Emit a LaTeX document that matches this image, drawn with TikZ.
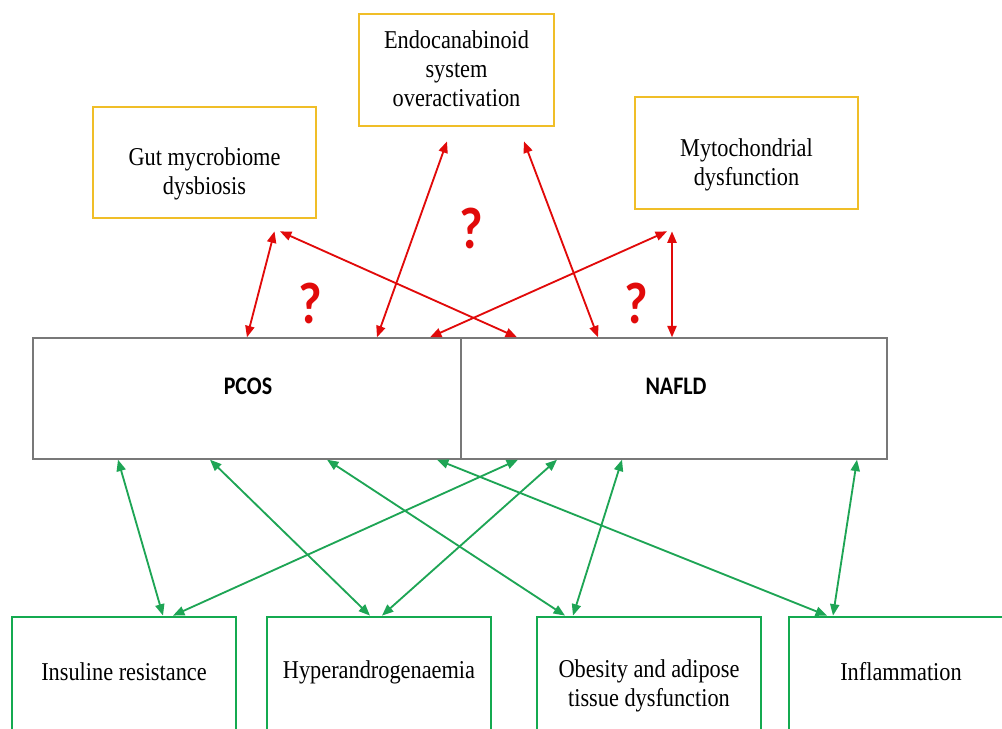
\documentclass[tikz,border=0pt]{standalone}
\usepackage{fontspec}
\setmainfont{Liberation Serif}
\newfontfamily\qfont{Carlito}
\usetikzlibrary{arrows.meta,calc}
\definecolor{boxyellow}{RGB}{240,190,40}
\definecolor{boxgreen}{RGB}{20,170,80}
\definecolor{arrgreen}{RGB}{30,165,85}
\definecolor{arrred}{RGB}{225,10,10}
\definecolor{boxgray}{RGB}{120,120,120}

\begin{document}
\begin{tikzpicture}[x=0.02cm, y=-0.02cm,
  ybox/.style={draw=boxyellow, line width=1.6pt, minimum width=4.46cm, minimum height=2.22cm, inner sep=0pt},
  gbox/.style={draw=boxgreen, line width=1.6pt, minimum width=4.48cm, minimum height=2.5cm, inner sep=0pt},
  mbox/.style={draw=boxgray, line width=0.8pt, minimum height=2.42cm, inner sep=0pt},
  txt/.style={font=\fontsize{12.7}{14.3}\selectfont, align=center, inner sep=0pt, yscale=1.15, transform shape},
  btxt/.style={font=\qfont\bfseries\fontsize{12.5}{14}\selectfont, inner sep=0pt, yscale=1.15, transform shape},
  qmark/.style={font=\qfont\bfseries\fontsize{29}{32}\selectfont, text=arrred, inner sep=0pt, yscale=1.15, transform shape},
  redarr/.style={draw=arrred, line width=1.05pt, {Triangle[length=6.5pt,width=5.2pt]}-{Triangle[length=6.5pt,width=5.2pt]}},
  greenarr/.style={draw=arrgreen, line width=1.05pt, {Triangle[length=6.5pt,width=5.2pt]}-{Triangle[length=6.5pt,width=5.2pt]}}]
\useasboundingbox (0,0) rectangle (1002,729);

% top boxes
\node[ybox] (gut) at (204.5,162.5) {};
\node[ybox, minimum width=3.9cm, minimum height=2.24cm] (endo) at (456.5,70) {};
\node[ybox, minimum height=2.24cm] (myto) at (746.5,153) {};
\node[txt] (gutl) at (204.5,174) {Gut mycrobiome\\dysbiosis};
\node[txt] (endol) at (456.5,69) {Endocanabinoid\\system\\overactivation};
\node[txt] (mytol) at (746.5,165) {Mytochondrial\\dysfunction};

% middle boxes
\node[mbox, minimum width=8.56cm] (pcos) at (247,398.5) {};
\node[mbox, minimum width=8.52cm] (nafld) at (674,398.5) {};
\node[btxt] (pcosl) at (248,386) {PCOS};
\node[btxt] (nafldl) at (676,386) {NAFLD};

% bottom boxes
\node[gbox] (ins) at (124,679.5) {};
\node[gbox] (hyp) at (379,679.5) {};
\node[gbox] (obe) at (649,679.5) {};
\node[gbox] (infl) at (901,679.5) {};
\node[txt] (insl) at (124,672) {Insuline resistance};
\node[txt] (hypl) at (379,672) {Hyperandrogenaemia};
\node[txt] (obel) at (649,686) {Obesity and adipose\\tissue dysfunction};
\node[txt] (infll) at (901,672) {Inflammation};

% question marks
\node[qmark] (q1) at (471,228) {?};
\node[qmark] (q2) at (310,303) {?};
\node[qmark] (q3) at (636,303) {?};

% red arrows
\draw[redarr] ($(gut.south)+(70,12)$) -- ($(pcos.north)+(0,0)$);
\draw[redarr] ($(gut.south)+(75.5,12)$) -- ($(nafld.north)+(-157,0)$);
\draw[redarr] ($(endo.south)+(-9.5,14)$) -- ($(pcos.north)+(130,0)$);
\draw[redarr] ($(endo.south)+(67.5,14)$) -- ($(nafld.north)+(-76,0)$);
\draw[redarr] ($(myto.south)+(-79.5,21)$) -- ($(pcos.north)+(183,0)$);
\draw[redarr] ($(myto.south)+(-74.5,21)$) -- ($(nafld.north)+(-2,0)$);

% green arrows
\draw[greenarr] ($(pcos.south)+(-129,0)$) -- ($(ins.north)+(39,0)$);
\draw[greenarr] ($(pcos.south)+(-37,0)$) -- ($(hyp.north)+(-9,0)$);
\draw[greenarr] ($(pcos.south)+(80,0)$) -- ($(obe.north)+(-84,0)$);
\draw[greenarr] ($(pcos.south)+(190,0)$) -- ($(infl.north)+(-74,0)$);
\draw[greenarr] ($(nafld.south)+(-156,0)$) -- ($(ins.north)+(49,0)$);
\draw[greenarr] ($(nafld.south)+(-117,0)$) -- ($(hyp.north)+(3,0)$);
\draw[greenarr] ($(nafld.south)+(-52,0)$) -- ($(obe.north)+(-76,0)$);
\draw[greenarr] ($(nafld.south)+(183,0)$) -- ($(infl.north)+(-68,0)$);
\end{tikzpicture}
\end{document}
